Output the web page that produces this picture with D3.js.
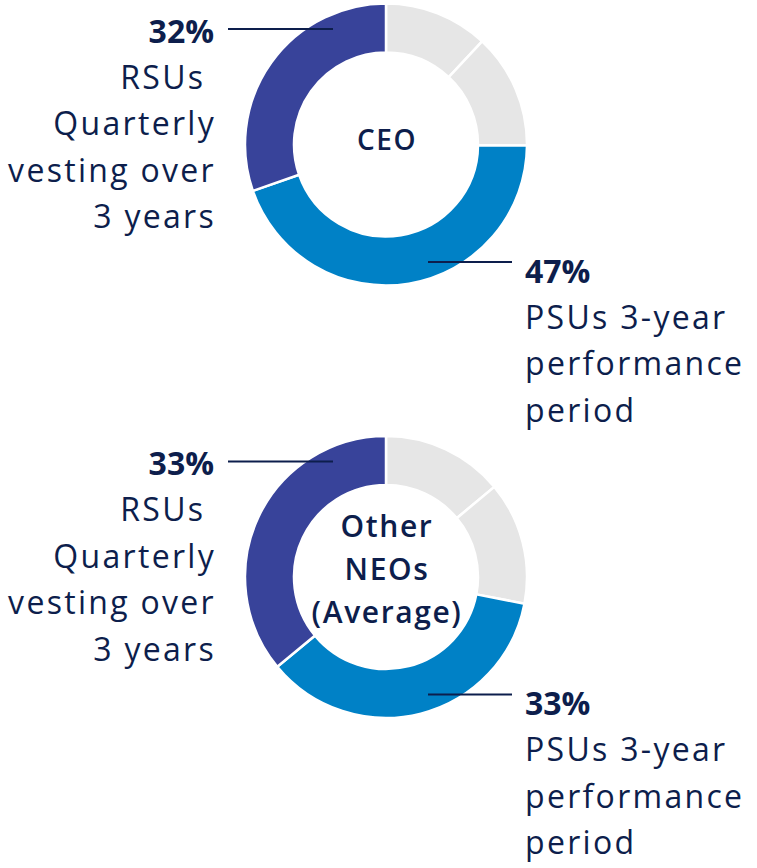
<!DOCTYPE html>
<html>
<head>
<meta charset="utf-8">
<script src="https://cdn.jsdelivr.net/npm/d3@7"></script>
<style>
    body { margin: 0; background: #fff; }
    svg { display: block; }
    text { font-family: "Open Sans", sans-serif; fill: #0d1e4c; }
</style>
</head>
<body>
<div id="chart"></div>
<script>
// slice order, clockwise from 12 o'clock
var segments = ["Other 1", "Other 2", "PSUs", "RSUs"];
var ceoValues = [12.6, 13.9, 47, 32];
var neoValues = [12.8, 12.9, 33, 33];

var ceoTitle = ["CEO"];
var neoTitle = ["Other", "NEOs", "(Average)"];

var ceoRsuLabel = "32%";
var ceoPsuLabel = "47%";
var neoRsuLabel = "33%";
var neoPsuLabel = "33%";

// the reference keeps a trailing space after "RSUs"
var rsuText = ["RSUs\u00a0", "Quarterly", "vesting over", "3 years"];
var psuText = ["PSUs 3-year", "performance", "period"];

var width = 757;
var height = 868;

var cx = 386;
var outerR = 141;
var innerR = 92;
var lineStep = 46.4;

var color = d3.scaleOrdinal()
    .domain(segments)
    .range(["#e6e6e6", "#e6e6e6", "#0081c6", "#38439a"]);

var svg = d3.select("#chart").append("svg")
    .attr("width", width)
    .attr("height", height);

var pie = d3.pie().sort(null).value(d => d.value);
var arc = d3.arc().innerRadius(innerR).outerRadius(outerR);

function drawDonut(cy, values, title, titleSize, titleStep, titleOffset, rsuLabel, psuLabel) {
    var g = svg.append("g").attr("transform", "translate(" + cx + "," + cy + ")");

    var data = segments.map((s, i) => ({ key: s, value: values[i] }));

    g.selectAll("path")
        .data(pie(data))
        .enter()
        .append("path")
        .attr("d", arc)
        .style("fill", d => color(d.data.key))
        .style("stroke", "#fff")
        .style("stroke-width", 2.5);

    // centre title (dx makes up for the trailing letter-spacing)
    g.selectAll(".title")
        .data(title)
        .enter()
        .append("text")
        .attr("class", "title")
        .attr("x", 0)
        .attr("dx", 1)
        .attr("y", (d, i) => titleOffset + i * titleStep)
        .attr("text-anchor", "middle")
        .style("font-size", titleSize + "px")
        .style("font-weight", 600)
        .style("letter-spacing", "1.6px")
        .text(d => d);

    // leader lines
    g.append("line")
        .attr("x1", 228 - cx).attr("x2", -53)
        .attr("y1", -115.5).attr("y2", -115.5)
        .style("stroke", "#0d1e4c").style("stroke-width", 2);

    g.append("line")
        .attr("x1", 42).attr("x2", 512 - cx)
        .attr("y1", 117.5).attr("y2", 117.5)
        .style("stroke", "#0d1e4c").style("stroke-width", 2);

    // left label (RSUs)
    var left = g.append("g").attr("transform", "translate(" + (214 - cx) + ",-102)");
    left.append("text")
        .attr("text-anchor", "end")
        .style("font-size", "32px")
        .style("font-weight", 700)
        .text(rsuLabel);
    left.selectAll(".body")
        .data(rsuText)
        .enter()
        .append("text")
        .attr("class", "body")
        .attr("text-anchor", "end")
        .attr("x", 2)
        .attr("y", (d, i) => (i + 1) * lineStep)
        .style("font-size", "32px")
        .style("letter-spacing", "2.3px")
        .text(d => d);

    // right label (PSUs)
    var right = g.append("g").attr("transform", "translate(" + (525 - cx) + ",138)");
    right.append("text")
        .style("font-size", "32px")
        .style("font-weight", 700)
        .text(psuLabel);
    right.selectAll(".body")
        .data(psuText)
        .enter()
        .append("text")
        .attr("class", "body")
        .attr("y", (d, i) => (i + 1) * lineStep)
        .style("font-size", "32px")
        .style("letter-spacing", "2.3px")
        .text(d => d);
}

drawDonut(144.5, ceoValues, ceoTitle, 28, 0, 5, ceoRsuLabel, ceoPsuLabel);
drawDonut(577, neoValues, neoTitle, 30, 43, -40, neoRsuLabel, neoPsuLabel);
</script>
</body>
</html>
